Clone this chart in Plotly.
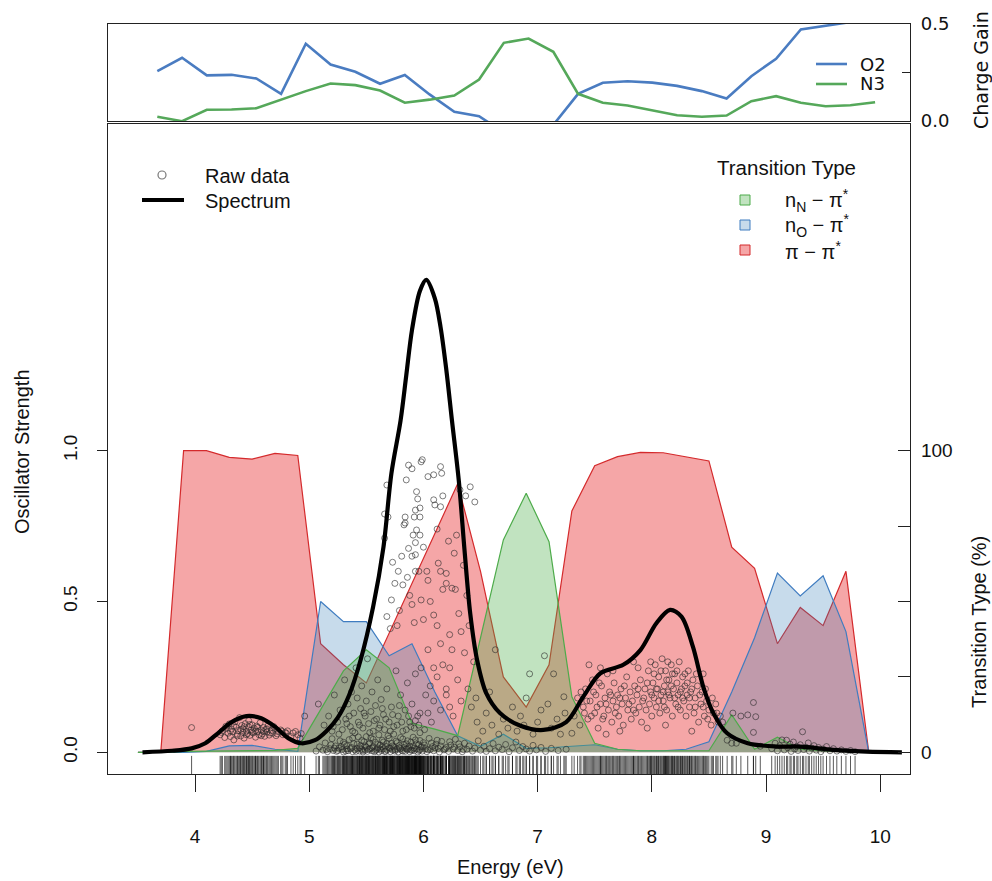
import plotly.graph_objects as go

# ---------------- data ----------------
# transition-type composition (%) on an energy grid
grid_energy = [3.5, 3.7, 3.9, 4.1, 4.3, 4.5, 4.7, 4.9, 5.1, 5.3, 5.5, 5.7, 5.9, 6.1, 6.3, 6.5,
               6.7, 6.9, 7.1, 7.3, 7.5, 7.7, 7.9, 8.1, 8.3, 8.5, 8.7, 8.9, 9.1, 9.3, 9.5, 9.7, 9.9]
pct_pipi = [0, 0, 100, 100, 97.8, 97.2, 99.1, 98.4, 36, 29, 23, 39.5, 56, 72.5, 89, 60,
            25, 15, 29, 80, 95, 98, 99.4, 99.3, 98, 96.6, 68, 61, 36, 48, 42, 60, 0]
pct_nO = [0, 0, 0, 0.3, 2.1, 2.3, 1.0, 0.3, 50, 43.3, 43.3, 32, 36, 20, 5.5, 2,
          6, 1.3, 1.5, 2, 2.5, 1, 0.5, 0.5, 1, 3.5, 20, 38, 59.4, 51.8, 58.5, 40, 0]
pct_nN = [0, 0, 0.3, 0.4, 0.5, 0.5, 0.6, 1.3, 14, 27, 34, 28, 9.6, 7.7, 5.5, 38,
          70.4, 85.9, 69.8, 18.4, 3, 1, 0.5, 0.5, 0.5, 0.5, 12.4, 1, 5, 1, 0.5, 0.3, 0]

# broadened spectrum (oscillator strength)
spec_energy = [3.54, 3.80, 3.97, 4.09, 4.20, 4.32, 4.45, 4.58, 4.70, 4.82, 4.93, 5.05, 5.15,
               5.25, 5.35, 5.45, 5.56, 5.65, 5.72, 5.80, 5.85, 5.90, 5.97, 6.025, 6.10, 6.15,
               6.20, 6.25, 6.31, 6.36, 6.41, 6.47, 6.55, 6.67, 6.85, 7.05, 7.25, 7.40, 7.55,
               7.75, 7.90, 8.04, 8.16, 8.26, 8.36, 8.45, 8.54, 8.66, 8.84, 9.09, 9.30, 9.59,
               9.88, 10.19]
spec_strength = [0.0, 0.005, 0.013, 0.03, 0.063, 0.10, 0.12, 0.113, 0.085, 0.046, 0.03, 0.04,
                 0.07, 0.115, 0.19, 0.306, 0.483, 0.68, 0.925, 1.10, 1.25, 1.40, 1.53, 1.566,
                 1.505, 1.41, 1.27, 1.10, 0.90, 0.67, 0.46, 0.306, 0.196, 0.13, 0.088, 0.074,
                 0.10, 0.184, 0.262, 0.29, 0.339, 0.428, 0.472, 0.45, 0.35, 0.218, 0.129,
                 0.063, 0.03, 0.019, 0.019, 0.008, 0.002, 0.0]

# raw transitions (energy eV, oscillator strength), grouped by region
raw_low = [(3.97, 0.082), (4.22, 0.058), (4.24, 0.071), (4.26, 0.049), (4.27, 0.086), (4.29, 0.063),
           (4.30, 0.094), (4.31, 0.052), (4.32, 0.077), (4.33, 0.068), (4.34, 0.041), (4.35, 0.101),
           (4.36, 0.083), (4.37, 0.06), (4.38, 0.072), (4.39, 0.115), (4.40, 0.054), (4.41, 0.089),
           (4.42, 0.066), (4.42, 0.078), (4.43, 0.047), (4.44, 0.095), (4.45, 0.07), (4.46, 0.062),
           (4.47, 0.084), (4.47, 0.105), (4.48, 0.056), (4.49, 0.073), (4.50, 0.091), (4.51, 0.064),
           (4.52, 0.079), (4.53, 0.05), (4.54, 0.087), (4.55, 0.069), (4.56, 0.058), (4.57, 0.098),
           (4.58, 0.074), (4.59, 0.061), (4.60, 0.082), (4.61, 0.053), (4.62, 0.076), (4.63, 0.067),
           (4.64, 0.088), (4.65, 0.057), (4.67, 0.072), (4.68, 0.063), (4.70, 0.079), (4.71, 0.055),
           (4.73, 0.068), (4.75, 0.074), (4.77, 0.058), (4.79, 0.066), (4.81, 0.071), (4.84, 0.052),
           (4.86, 0.064), (4.88, 0.069), (4.90, 0.058), (4.92, 0.047), (4.93, 0.062), (4.96, 0.12),
           (4.23, 0.066), (4.28, 0.079), (4.31, 0.07), (4.34, 0.088), (4.37, 0.054), (4.40, 0.076),
           (4.43, 0.085), (4.45, 0.058), (4.48, 0.092), (4.50, 0.067), (4.53, 0.071), (4.55, 0.083),
           (4.58, 0.055), (4.60, 0.069), (4.63, 0.078), (4.66, 0.064), (4.69, 0.085), (4.72, 0.061),
           (4.76, 0.07), (4.80, 0.063)]
raw_floor = [(5.06, 0.004), (5.09, 0.018), (5.12, 0.007), (5.14, 0.031), (5.16, 0.002), (5.18, 0.012),
             (5.20, 0.045), (5.21, 0.006), (5.23, 0.021), (5.24, 0.003), (5.26, 0.014), (5.27, 0.038),
             (5.29, 0.009), (5.30, 0.001), (5.31, 0.026), (5.33, 0.011), (5.34, 0.005), (5.35, 0.042),
             (5.37, 0.016), (5.38, 0.002), (5.39, 0.029), (5.40, 0.008), (5.42, 0.013), (5.43, 0.051),
             (5.44, 0.004), (5.45, 0.022), (5.46, 0.01), (5.47, 0.001), (5.48, 0.035), (5.49, 0.007),
             (5.50, 0.017), (5.51, 0.003), (5.52, 0.027), (5.53, 0.012), (5.54, 0.048), (5.55, 0.005),
             (5.56, 0.019), (5.57, 0.002), (5.58, 0.033), (5.59, 0.009), (5.60, 0.014), (5.61, 0.001),
             (5.62, 0.024), (5.63, 0.006), (5.64, 0.04), (5.65, 0.011), (5.66, 0.003), (5.67, 0.02),
             (5.68, 0.008), (5.69, 0.055), (5.70, 0.015), (5.71, 0.002), (5.72, 0.03), (5.73, 0.007),
             (5.74, 0.018), (5.75, 0.004), (5.76, 0.037), (5.77, 0.01), (5.78, 0.001), (5.79, 0.023),
             (5.80, 0.012), (5.81, 0.006), (5.82, 0.044), (5.83, 0.016), (5.84, 0.003), (5.85, 0.028),
             (5.86, 0.009), (5.87, 0.013), (5.88, 0.002), (5.89, 0.034), (5.90, 0.007), (5.91, 0.021),
             (5.92, 0.005), (5.93, 0.041), (5.94, 0.011), (5.95, 0.001), (5.96, 0.025), (5.97, 0.008),
             (5.98, 0.017), (5.99, 0.004), (6.00, 0.032), (6.02, 0.012), (6.03, 0.002), (6.05, 0.046),
             (6.06, 0.009), (6.08, 0.019), (6.09, 0.005), (6.11, 0.027), (6.13, 0.013), (6.14, 0.001),
             (6.16, 0.036), (6.18, 0.008), (6.20, 0.016), (6.22, 0.003), (6.24, 0.024), (6.26, 0.011),
             (6.28, 0.043), (6.30, 0.006), (6.32, 0.018), (6.34, 0.002), (6.36, 0.03), (6.38, 0.01),
             (6.40, 0.021), (6.43, 0.004), (6.45, 0.014), (6.48, 0.038), (6.50, 0.007), (6.53, 0.02),
             (6.55, 0.003), (6.58, 0.012), (6.61, 0.029), (6.63, 0.005), (6.66, 0.017), (6.69, 0.009),
             (6.72, 0.026), (6.75, 0.002), (6.78, 0.015), (6.81, 0.034), (6.84, 0.006), (6.87, 0.019),
             (6.90, 0.011), (6.93, 0.004), (6.96, 0.023), (6.99, 0.008), (7.03, 0.016), (7.07, 0.003),
             (7.12, 0.013), (7.18, 0.006), (7.25, 0.01),
             (5.15, 0.009), (5.19, 0.025), (5.22, 0.014), (5.25, 0.006), (5.28, 0.019), (5.30, 0.033),
             (5.32, 0.004), (5.33, 0.022), (5.36, 0.012), (5.38, 0.047), (5.41, 0.003), (5.42, 0.027),
             (5.44, 0.015), (5.46, 0.039), (5.47, 0.006), (5.49, 0.021), (5.50, 0.052), (5.52, 0.009),
             (5.53, 0.031), (5.55, 0.014), (5.56, 0.043), (5.58, 0.005), (5.60, 0.026), (5.61, 0.058),
             (5.62, 0.011), (5.64, 0.019), (5.65, 0.034), (5.67, 0.003), (5.68, 0.029), (5.70, 0.046),
             (5.71, 0.013), (5.73, 0.021), (5.74, 0.06), (5.75, 0.009), (5.77, 0.032), (5.79, 0.015),
             (5.80, 0.049), (5.82, 0.004), (5.83, 0.026), (5.85, 0.012), (5.86, 0.038), (5.88, 0.02),
             (5.89, 0.007), (5.91, 0.05), (5.92, 0.014), (5.94, 0.028), (5.96, 0.006), (5.97, 0.039),
             (5.99, 0.018), (6.01, 0.024), (6.04, 0.008), (6.07, 0.031), (6.10, 0.015), (6.12, 0.04),
             (6.15, 0.021), (6.19, 0.011), (6.23, 0.035), (6.27, 0.017), (6.31, 0.028), (6.35, 0.009)]
raw_mid = [(5.08, 0.16), (5.13, 0.09), (5.17, 0.12), (5.20, 0.07), (5.22, 0.19), (5.25, 0.10),
           (5.27, 0.14), (5.29, 0.075), (5.31, 0.24), (5.32, 0.11), (5.34, 0.16), (5.36, 0.085),
           (5.37, 0.20), (5.39, 0.13), (5.40, 0.065), (5.41, 0.28), (5.42, 0.18), (5.43, 0.10),
           (5.45, 0.145), (5.46, 0.22), (5.47, 0.08), (5.49, 0.12), (5.50, 0.17), (5.51, 0.31),
           (5.52, 0.095), (5.54, 0.135), (5.55, 0.20), (5.56, 0.07), (5.58, 0.155), (5.59, 0.11),
           (5.60, 0.24), (5.62, 0.09), (5.63, 0.175), (5.65, 0.125), (5.66, 0.075), (5.68, 0.21),
           (5.70, 0.10), (5.72, 0.15), (5.74, 0.085), (5.76, 0.27), (5.78, 0.12), (5.80, 0.19),
           (5.82, 0.07), (5.84, 0.14), (5.86, 0.23), (5.88, 0.10), (5.90, 0.16), (5.92, 0.08),
           (5.95, 0.12), (5.97, 0.065),
           (5.21, 0.085), (5.26, 0.06), (5.33, 0.095), (5.35, 0.12), (5.38, 0.07), (5.44, 0.09),
           (5.48, 0.13), (5.53, 0.065), (5.57, 0.105), (5.61, 0.08), (5.64, 0.145), (5.67, 0.11),
           (5.71, 0.07), (5.73, 0.125), (5.77, 0.09), (5.79, 0.155), (5.81, 0.10), (5.85, 0.075),
           (5.87, 0.12), (5.89, 0.085), (5.93, 0.105), (5.96, 0.09), (6.01, 0.075), (6.07, 0.10)]
raw_high = [(5.66, 0.79), (5.68, 0.886), (5.69, 0.78), (5.66, 0.71), (5.73, 0.63), (5.72, 0.505),
            (5.68, 0.45), (5.82, 0.555), (5.84, 0.78), (5.83, 0.754), (5.85, 0.903), (5.87, 0.952),
            (5.90, 0.94), (5.98, 0.963), (5.99, 0.97), (5.94, 0.864), (5.95, 0.84), (5.97, 0.81),
            (6.04, 0.914), (6.09, 0.92), (6.15, 0.947), (6.16, 0.925), (6.09, 0.837), (6.10, 0.82),
            (6.15, 0.814), (6.17, 0.85), (5.93, 0.803), (5.92, 0.78), (5.97, 0.78), (5.84, 0.76),
            (5.94, 0.737), (5.91, 0.72), (5.97, 0.72), (5.93, 0.695), (5.87, 0.676), (5.93, 0.655),
            (5.90, 0.65), (5.81, 0.65), (5.78, 0.60), (5.75, 0.56), (5.79, 0.47), (5.86, 0.58),
            (5.88, 0.52), (5.96, 0.60), (5.77, 0.42), (5.71, 0.41)]
raw_peak = [(6.00, 0.68), (6.13, 0.627), (6.15, 0.60), (6.20, 0.593), (6.20, 0.56), (6.25, 0.544),
            (6.17, 0.54), (6.28, 0.54), (6.03, 0.60), (5.93, 0.60), (6.04, 0.57), (5.98, 0.505),
            (5.90, 0.49), (6.09, 0.455), (6.00, 0.44), (5.92, 0.43), (6.12, 0.42), (6.31, 0.46),
            (6.33, 0.40), (6.23, 0.39), (6.15, 0.36), (6.04, 0.34), (6.25, 0.34), (6.36, 0.33),
            (6.17, 0.29), (6.09, 0.28), (5.98, 0.28), (5.93, 0.26), (6.23, 0.28), (6.12, 0.25),
            (6.30, 0.24), (6.20, 0.21), (6.06, 0.22), (6.02, 0.19), (6.20, 0.19), (6.09, 0.17),
            (6.33, 0.17), (6.23, 0.15), (6.42, 0.15), (6.15, 0.14), (6.04, 0.13), (5.97, 0.13),
            (6.26, 0.12), (6.46, 0.18), (6.39, 0.21), (6.27, 0.66), (6.29, 0.72), (6.22, 0.70),
            (6.35, 0.62), (6.12, 0.74), (6.06, 0.50), (6.38, 0.52), (6.40, 0.42), (6.44, 0.30),
            (6.32, 0.87), (6.37, 0.85), (6.41, 0.88), (6.45, 0.83)]
raw_valley = [(6.47, 0.10), (6.52, 0.07), (6.55, 0.13), (6.60, 0.09), (6.63, 0.34), (6.66, 0.06),
              (6.70, 0.11), (6.74, 0.08), (6.78, 0.15), (6.82, 0.07), (6.85, 0.12), (6.88, 0.09),
              (6.93, 0.26), (6.96, 0.06), (7.00, 0.10), (7.03, 0.14), (7.06, 0.32), (7.09, 0.16),
              (7.12, 0.08), (7.14, 0.26), (7.17, 0.11), (7.20, 0.06), (7.24, 0.13), (6.58, 0.20),
              (6.90, 0.18), (7.23, 0.184), (7.30, 0.063)]
raw_band = [(7.32, 0.12), (7.35, 0.18), (7.37, 0.09), (7.40, 0.15), (7.42, 0.21), (7.44, 0.11),
            (7.46, 0.17), (7.48, 0.24), (7.50, 0.13), (7.51, 0.19), (7.53, 0.08), (7.55, 0.16),
            (7.56, 0.22), (7.58, 0.12), (7.59, 0.18), (7.61, 0.26), (7.62, 0.14), (7.63, 0.20),
            (7.65, 0.10), (7.66, 0.17), (7.67, 0.23), (7.69, 0.15), (7.70, 0.19), (7.71, 0.12),
            (7.73, 0.21), (7.74, 0.16), (7.75, 0.09), (7.77, 0.18), (7.78, 0.25), (7.79, 0.14),
            (7.81, 0.20), (7.82, 0.11), (7.83, 0.17), (7.85, 0.22), (7.86, 0.13), (7.87, 0.19),
            (7.89, 0.15), (7.90, 0.24), (7.91, 0.10), (7.93, 0.18), (7.94, 0.21), (7.95, 0.14),
            (7.97, 0.27), (7.98, 0.16), (7.99, 0.20), (8.00, 0.12), (8.01, 0.23), (8.02, 0.18),
            (8.03, 0.29), (8.04, 0.15), (8.05, 0.21), (8.06, 0.25), (8.07, 0.13), (8.08, 0.19),
            (8.09, 0.31), (8.10, 0.17), (8.11, 0.22), (8.12, 0.27), (8.13, 0.14), (8.14, 0.20),
            (8.15, 0.24), (8.16, 0.18), (8.17, 0.29), (8.18, 0.12), (8.19, 0.21), (8.20, 0.26),
            (8.21, 0.16), (8.22, 0.23), (8.23, 0.19), (8.24, 0.30), (8.25, 0.14), (8.26, 0.21),
            (8.27, 0.25), (8.28, 0.17), (8.29, 0.22), (8.30, 0.12), (8.31, 0.19), (8.32, 0.27),
            (8.33, 0.15), (8.34, 0.20), (8.36, 0.24), (8.37, 0.13), (8.38, 0.18), (8.40, 0.22),
            (8.41, 0.10), (8.43, 0.16), (8.44, 0.20), (8.46, 0.12), (8.48, 0.17), (8.50, 0.14),
            (8.52, 0.09), (8.54, 0.13), (8.56, 0.16), (8.58, 0.10), (8.60, 0.12), (7.60, 0.06),
            (7.72, 0.07), (7.88, 0.28), (7.96, 0.08), (8.35, 0.07), (8.45, 0.26), (7.45, 0.29),
            (8.12, 0.09), (7.84, 0.30),
            (7.38, 0.20), (7.41, 0.13), (7.43, 0.17), (7.47, 0.12), (7.49, 0.20), (7.52, 0.15),
            (7.54, 0.23), (7.57, 0.11), (7.60, 0.16), (7.64, 0.19), (7.68, 0.13), (7.72, 0.18),
            (7.76, 0.22), (7.80, 0.16), (7.84, 0.14), (7.88, 0.21), (7.92, 0.17), (7.96, 0.23),
            (8.00, 0.19), (8.02, 0.26), (8.04, 0.21), (8.06, 0.17), (8.08, 0.27), (8.10, 0.20),
            (8.11, 0.15), (8.13, 0.24), (8.15, 0.19), (8.17, 0.22), (8.18, 0.26), (8.20, 0.18),
            (8.22, 0.27), (8.23, 0.15), (8.25, 0.20), (8.27, 0.18), (8.29, 0.26), (8.31, 0.23),
            (8.33, 0.18), (8.35, 0.21), (8.38, 0.15), (8.39, 0.26), (8.42, 0.19), (8.45, 0.15),
            (8.47, 0.21), (8.49, 0.11), (8.53, 0.18), (8.57, 0.13), (7.55, 0.28), (7.66, 0.27),
            (7.99, 0.30), (8.14, 0.30)]
raw_tail = [(8.62, 0.10), (8.66, 0.04), (8.70, 0.03), (8.71, 0.13), (8.74, 0.03), (8.78, 0.12),
            (8.84, 0.124), (8.89, 0.165), (8.89, 0.066), (8.91, 0.118), (8.95, 0.02),
            (9.05, 0.012), (9.08, 0.03), (9.10, 0.005), (9.12, 0.022), (9.14, 0.041), (9.16, 0.008),
            (9.18, 0.04), (9.19, 0.015), (9.21, 0.027), (9.22, 0.003), (9.24, 0.034), (9.25, 0.011),
            (9.27, 0.019), (9.28, 0.006), (9.30, 0.025), (9.32, 0.068), (9.33, 0.009), (9.35, 0.017),
            (9.37, 0.031), (9.38, 0.004), (9.40, 0.014), (9.42, 0.022), (9.44, 0.007), (9.46, 0.016),
            (9.48, 0.002), (9.50, 0.011), (9.53, 0.019), (9.56, 0.005), (9.59, 0.012), (9.62, 0.004),
            (9.66, 0.008), (9.70, 0.003), (9.74, 0.006), (9.78, 0.002)]

# charge gain (top panel), one value per step
charge_step = list(range(31))
gain_O2 = [0.257, 0.326, 0.235, 0.238, 0.219, 0.140, 0.398, 0.291, 0.254, 0.192, 0.237, 0.137,
           0.047, 0.025, -0.06, -0.07, -0.02, 0.140, 0.197, 0.205, 0.198, 0.181, 0.154, 0.116,
           0.231, 0.321, 0.472, 0.489, 0.51, 0.53, None]
gain_N3 = [0.022, -0.001, 0.058, 0.059, 0.066, 0.111, 0.154, 0.193, 0.185, 0.157, 0.094, 0.110,
           0.131, 0.214, 0.403, 0.425, 0.357, 0.140, 0.094, 0.080, 0.054, 0.030, 0.022, 0.028,
           0.102, 0.128, 0.094, 0.076, 0.081, 0.097, None]

# ---------------- styling helpers ----------------
W, H = 992, 881
L, R, T, B = 108, 910, 24, 774


def px(x):
    return (x - L) / (R - L)


def py(y):
    return (B - y) / (B - T)


MAIN_FONT = "Liberation Sans, Arial, sans-serif"
TOP_FONT = "DejaVu Sans, sans-serif"
AX = "#222222"

RED_LINE, RED_FILL = "#d42a2c", "rgba(228,26,28,0.39)"
BLUE_LINE, BLUE_FILL = "#3f7cc0", "rgba(55,126,184,0.28)"
GREEN_LINE, GREEN_FILL = "#4dab4a", "rgba(77,175,74,0.35)"

raw_all = raw_low + raw_floor + raw_mid + raw_high + raw_peak + raw_valley + raw_band + raw_tail
raw_energy = [p[0] for p in raw_all]
raw_strength = [p[1] for p in raw_all]

fig = go.Figure()

# transition-type areas (base axis: percent)
for vals, lc, fc, nm in [(pct_pipi, RED_LINE, RED_FILL, "pipi"),
                         (pct_nO, BLUE_LINE, BLUE_FILL, "nO"),
                         (pct_nN, GREEN_LINE, GREEN_FILL, "nN")]:
    fig.add_trace(go.Scatter(x=grid_energy, y=vals, mode="lines", fill="tozeroy",
                             fillcolor=fc, line=dict(color=lc, width=1.2),
                             xaxis="x", yaxis="y", showlegend=False, name=nm))

# rug of raw energies
rug_x, rug_y = [], []
for e in raw_energy:
    rug_x += [e, e, None]
    rug_y += [-0.072, -0.012, None]
fig.add_trace(go.Scatter(x=rug_x, y=rug_y, mode="lines",
                         line=dict(color="rgba(10,10,10,0.85)", width=0.8),
                         xaxis="x", yaxis="y2", showlegend=False, hoverinfo="skip"))

# raw data
fig.add_trace(go.Scatter(x=raw_energy, y=raw_strength, mode="markers",
                         marker=dict(symbol="circle-open", size=6,
                                     color="rgba(40,40,40,0.6)", line=dict(width=1)),
                         xaxis="x", yaxis="y2", showlegend=False))

# spectrum
fig.add_trace(go.Scatter(x=spec_energy, y=spec_strength, mode="lines",
                         line=dict(color="black", width=4.2, shape="spline", smoothing=0.9),
                         xaxis="x", yaxis="y2", showlegend=False))

# top panel
fig.add_trace(go.Scatter(x=charge_step, y=gain_O2, mode="lines",
                         line=dict(color="#4a7cc1", width=2.6), xaxis="x2", yaxis="y3",
                         showlegend=False))
fig.add_trace(go.Scatter(x=charge_step, y=gain_N3, mode="lines",
                         line=dict(color="#55a85a", width=2.6), xaxis="x2", yaxis="y3",
                         showlegend=False))

main_dom = [0, py(124)]
top_dom = [py(121), 1]

fig.update_layout(
    width=W, height=H, margin=dict(l=L, r=W - R, t=T, b=H - B),
    paper_bgcolor="white", plot_bgcolor="white", showlegend=False,
    font=dict(family=MAIN_FONT, size=19, color="#111"),
    xaxis=dict(domain=[0, 1], range=[3.238, 10.261], anchor="y",
               tickvals=[4, 5, 6, 7, 8, 9, 10], ticks="outside", ticklen=17, tickwidth=1.2,
               tickcolor=AX, showline=True, linecolor=AX, linewidth=1.3, mirror=True,
               showgrid=False, zeroline=False, ticklabelstandoff=28,
               tickfont=dict(family=MAIN_FONT, size=19)),
    yaxis=dict(domain=main_dom, range=[-7.2, 208.3], anchor="x", side="right",
               tickvals=[0, 25, 50, 75, 100], ticktext=["0", "", "", "", "100"],
               ticks="inside", ticklen=12, tickwidth=1.2, tickcolor=AX,
               showline=True, linecolor=AX, linewidth=1.3, showgrid=False, zeroline=False,
               ticklabelstandoff=6, tickfont=dict(family=MAIN_FONT, size=19)),
    yaxis2=dict(domain=main_dom, range=[-0.072, 2.083], overlaying="y", anchor="x",
                side="left", tickvals=[0, 0.5, 1.0], ticktext=["0.0", "0.5", "1.0"],
                tickangle=-90, ticks="outside", ticklen=10, tickwidth=1.2, tickcolor=AX,
                showline=True, linecolor=AX, linewidth=1.3, showgrid=False, zeroline=False,
                ticklabelstandoff=12, tickfont=dict(family=MAIN_FONT, size=19)),
    xaxis2=dict(domain=[0, 1], range=[-1.992, 30.41], anchor="y3", showticklabels=False,
                ticks="", showline=True, linecolor=AX, linewidth=1.3, mirror=True,
                showgrid=False, zeroline=False),
    yaxis3=dict(domain=top_dom, range=[0, 0.5], anchor="x2", side="right",
                tickvals=[0, 0.25, 0.5], ticktext=["0.0", "", "0.5"], ticks="inside",
                ticklen=8, tickwidth=1.2, tickcolor=AX, showline=True, linecolor=AX,
                linewidth=1.3, mirror=True, showgrid=False, zeroline=False,
                ticklabelstandoff=6, tickfont=dict(family=TOP_FONT, size=18)),
)

ann = []


def text(x, y, s, size=20, fam=MAIN_FONT, angle=0, xa="center", ya="middle"):
    ann.append(dict(x=px(x), y=py(y), xref="paper", yref="paper", text=s, showarrow=False,
                    textangle=angle, xanchor=xa, yanchor=ya,
                    font=dict(family=fam, size=size, color="#111")))


text(22, 452, "Oscillator Strength", angle=-90)
text(510, 867, "Energy (eV)")
text(979, 622, "Transition Type (%)", angle=-90)
text(981, 70, "Charge Gain", size=19, fam=TOP_FONT, angle=-90)

# main legend (left)
text(203, 176, "Raw data", xa="left")
text(203, 201, "Spectrum", xa="left")
# transition legend (right)
text(786, 168, "Transition Type", size=20.5)
text(783, 200, "n<sub>N</sub> − π<sup>*</sup>", xa="left")
text(783, 225, "n<sub>O</sub> − π<sup>*</sup>", xa="left")
text(783, 250, "π − π<sup>*</sup>", xa="left")
# top legend
text(858, 64, "O2", size=18, fam=TOP_FONT, xa="left")
text(858, 84, "N3", size=18, fam=TOP_FONT, xa="left")

shapes = []
shapes.append(dict(type="circle", xref="paper", yref="paper", x0=px(158), x1=px(166),
                   y0=py(179), y1=py(171), line=dict(color="#777", width=1.2)))
shapes.append(dict(type="line", xref="paper", yref="paper", x0=px(142), x1=px(184),
                   y0=py(200), y1=py(200), line=dict(color="black", width=4)))
for yy, fc, lc in [(200, GREEN_FILL, GREEN_LINE), (225, BLUE_FILL, BLUE_LINE),
                   (250, RED_FILL, RED_LINE)]:
    shapes.append(dict(type="rect", xref="paper", yref="paper", x0=px(740), x1=px(750),
                       y0=py(yy + 5), y1=py(yy - 5), fillcolor=fc, line=dict(color=lc, width=1)))
shapes.append(dict(type="line", xref="paper", yref="paper", x0=px(816), x1=px(847),
                   y0=py(64), y1=py(64), line=dict(color="#4a7cc1", width=2.6)))
shapes.append(dict(type="line", xref="paper", yref="paper", x0=px(816), x1=px(847),
                   y0=py(84), y1=py(84), line=dict(color="#55a85a", width=2.6)))

fig.update_layout(annotations=ann, shapes=shapes)
fig.write_html("out.html")
